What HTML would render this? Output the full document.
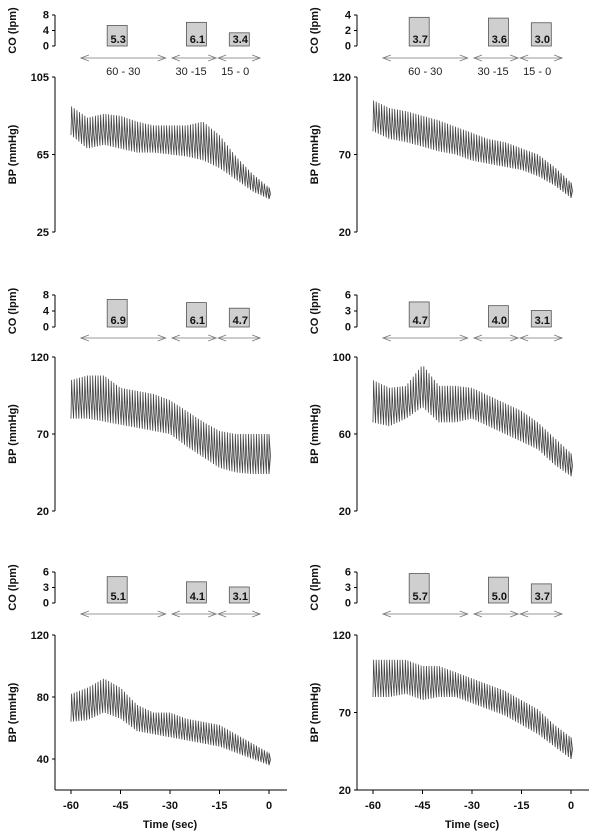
<!DOCTYPE html>
<html><head><meta charset="utf-8"><style>
body{margin:0;background:#fff}
svg{display:block;font-family:"Liberation Sans",Arial,sans-serif}
.t{font-size:11px;font-weight:bold;fill:#111}
</style></head><body>
<svg id="c" width="604" height="840" viewBox="0 0 604 840"></svg>
<script>
// Envelope samples at these times (sec)
const envTimes=[-60,-55,-50,-45,-40,-35,-30,-25,-20,-15,-10,-5,0];
const sysTL=[90,84,86,85,82,80,80,80,82,75,64,55,48];
const diaTL=[75,68,70,68,66,66,65,64,62,58,52,46,42];
const sysTR=[105,100,98,95,92,88,84,80,78,74,70,62,52];
const diaTR=[85,80,78,75,72,70,66,64,62,60,56,50,42];
const sysML=[105,108,108,100,98,96,92,85,78,72,70,70,70];
const diaML=[80,80,78,76,74,72,70,62,55,48,45,44,44];
const sysMR=[88,84,85,96,85,85,84,80,76,72,66,58,50];
const diaMR=[66,64,68,74,66,66,68,64,60,56,52,44,38];
const sysBL=[82,86,92,86,75,70,70,66,64,62,56,50,44];
const diaBL=[64,65,70,66,58,56,54,52,50,48,44,40,36];
const sysBR=[104,104,104,100,100,96,92,88,84,78,72,62,54];
const diaBR=[80,80,82,78,80,80,76,72,68,62,56,48,40];
const coTL=[5.3,6.1,3.4], coTR=[3.7,3.6,3.0], coML=[6.9,6.1,4.7];
const coMR=[4.7,4.0,3.1], coBL=[5.1,4.1,3.1], coBR=[5.7,5.0,3.7];
const coTimes=[-46,-22,-9];
const segLabels=["60 - 30","30 -15","15 - 0"];
const xTicks=[-60,-45,-30,-15,0];

const NS="http://www.w3.org/2000/svg", svg=document.getElementById('c');
function mk(tag,at,parent,txt){const e=document.createElementNS(NS,tag);for(const k in at)e.setAttribute(k,at[k]);if(txt!==undefined)e.textContent=txt;(parent||svg).appendChild(e);return e;}
function interp(arr,t){for(let i=0;i<envTimes.length-1;i++){if(t<=envTimes[i+1]){const f=(t-envTimes[i])/(envTimes[i+1]-envTimes[i]);return arr[i]+(arr[i+1]-arr[i])*f;}}return arr[arr.length-1];}

const rows=[{bt:77,bb:232,ct:15,cb:46,ay:58},{bt:357,bb:511,ct:295,cb:327,ay:338},{bt:635,bb:790,ct:572,cb:603,ay:614}];
const panels=[
 {col:0,row:0,sys:sysTL,dia:diaTL,co:coTL,bmin:25,bmax:105,bt:[25,65,105],cmax:8,ct:[0,4,8],name:'top-left'},
 {col:1,row:0,sys:sysTR,dia:diaTR,co:coTR,bmin:20,bmax:120,bt:[20,70,120],cmax:4,ct:[0,2,4],name:'top-right'},
 {col:0,row:1,sys:sysML,dia:diaML,co:coML,bmin:20,bmax:120,bt:[20,70,120],cmax:8,ct:[0,4,8],name:'middle-left'},
 {col:1,row:1,sys:sysMR,dia:diaMR,co:coMR,bmin:20,bmax:100,bt:[20,60,100],cmax:6,ct:[0,3,6],name:'middle-right'},
 {col:0,row:2,sys:sysBL,dia:diaBL,co:coBL,bmin:20,bmax:120,bt:[40,80,120],cmax:6,ct:[0,3,6],name:'bottom-left'},
 {col:1,row:2,sys:sysBR,dia:diaBR,co:coBR,bmin:20,bmax:120,bt:[20,70,120],cmax:6,ct:[0,3,6],name:'bottom-right'}];

panels.forEach(p=>{
 const r=rows[p.row], ox=p.col*302, ax=55+ox;
 const g=mk('g',{});
 
 
 const X=t=>71+ox+(t+60)*(198/60);
 const Y=v=>r.bb-(v-p.bmin)/(p.bmax-p.bmin)*(r.bb-r.bt);
 const CY=v=>r.cb-v/p.cmax*(r.cb-r.ct);
 const bax=mk('line',{x1:ax,y1:r.bt,x2:ax,y2:r.bb,stroke:'#000','stroke-width':1},g);
 
 p.bt.forEach(v=>{mk('line',{x1:ax-3,y1:Y(v),x2:ax,y2:Y(v),stroke:'#000'},g);
  const l=mk('text',{x:ax-6,y:Y(v)+4,'text-anchor':'end',class:'t'},g,v);
  });
 const bt=mk('text',{x:0,y:0,class:'t','text-anchor':'middle',transform:`translate(${ox+16},${(r.bt+r.bb)/2}) rotate(-90)`},g,'BP (mmHg)');
 
 mk('line',{x1:ax,y1:r.ct,x2:ax,y2:r.cb,stroke:'#000'},g);
 p.ct.forEach(v=>{mk('line',{x1:ax-3,y1:CY(v),x2:ax,y2:CY(v),stroke:'#000'},g);
  const l=mk('text',{x:ax-6,y:CY(v)+3.5,'text-anchor':'end',class:'t'},g,v);
  });
 const ctl=mk('text',{x:0,y:0,class:'t','text-anchor':'middle',transform:`translate(${ox+16},${(r.ct+r.cb)/2}) rotate(-90)`},g,'CO (lpm)');
 
 p.co.forEach((v,i)=>{const cx=X(coTimes[i]);
  const b=mk('rect',{x:cx-10,y:CY(v),width:20,height:r.cb-CY(v),fill:'#cfcfcf',stroke:'#555','stroke-width':0.8},g);
  
  const l=mk('text',{x:cx+1,y:r.cb-3,'text-anchor':'middle',class:'t'},g,v.toFixed(1));
  });
 [[-57,-31.3],[-29.4,-16],[-15.4,-2.7]].forEach((s,i)=>{const x1=X(s[0]),x2=X(s[1]),y=r.ay;
  const a=mk('g',{stroke:'#777','stroke-width':0.8,fill:'none'},g);
  
  mk('line',{x1,y1:y,x2,y2:y},a);
  mk('polyline',{points:`${x1+8},${y-3} ${x1},${y} ${x1+8},${y+3}`},a);
  mk('polyline',{points:`${x2-8},${y-3} ${x2},${y} ${x2-8},${y+3}`},a);
  if(p.row===0){const l=mk('text',{x:(x1+x2)/2+(i===2?-4:i===1?-3:0),y:y+17,'text-anchor':'middle','font-size':'11px',fill:'#222'},g,segLabels[i]);
   }});
 let pts=[];
 for(let t=-60;t<0;t+=0.8){const ts=Math.min(t+0.18,0);
  pts.push(`${X(t).toFixed(1)},${Y(interp(p.dia,t)).toFixed(1)}`);
  pts.push(`${X(ts).toFixed(1)},${Y(interp(p.sys,ts)).toFixed(1)}`);
  pts.push(`${X(t+0.45).toFixed(1)},${Y((interp(p.sys,t)*0.45+interp(p.dia,t)*0.55)).toFixed(1)}`);
 }
 pts.push(`${X(0)},${Y(interp(p.dia,0))}`);
 const w=mk('polyline',{points:pts.join(' '),fill:'none',stroke:'#444','stroke-width':0.8},g);
 
 if(p.row===2){
  const xa=mk('line',{x1:ax,y1:r.bb,x2:ax+232,y2:r.bb,stroke:'#000'},g);
  
  xTicks.forEach(v=>{mk('line',{x1:X(v),y1:r.bb,x2:X(v),y2:r.bb+4,stroke:'#000'},g);
   const l=mk('text',{x:X(v),y:r.bb+19,'text-anchor':'middle',class:'t'},g,v);
   });
  const xt=mk('text',{x:X(-30),y:r.bb+38,'text-anchor':'middle',class:'t'},g,'Time (sec)');
  
 }
});
</script>
</body></html>
